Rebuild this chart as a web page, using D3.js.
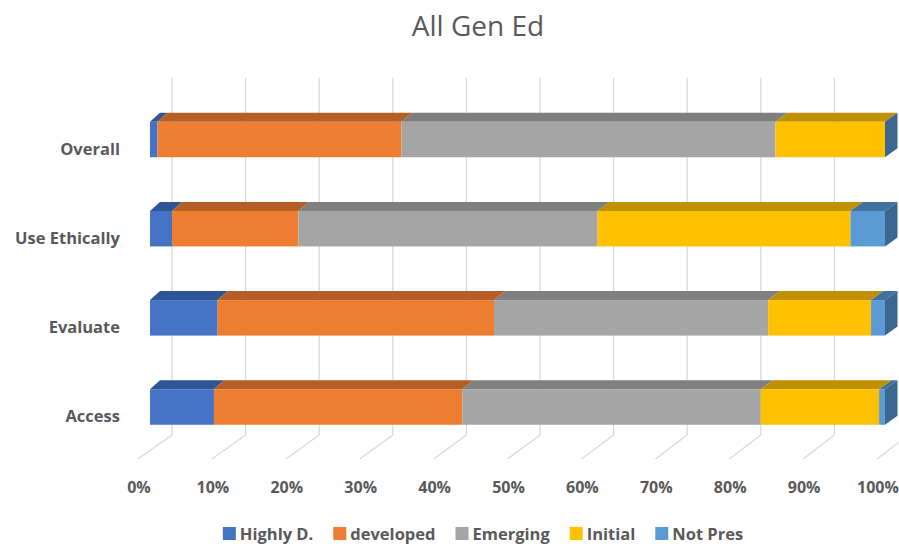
<!DOCTYPE html>
<html>
<head>
<meta charset="utf-8">
<script src="https://cdn.jsdelivr.net/npm/d3@7"></script>
<style>
  body { margin: 0; background: #fff; }
  text { font-family: "Open Sans", sans-serif; fill: #595959; }
</style>
</head>
<body>
<div class="chart-container"></div>
<script>
const categories = ["Overall", "Use Ethically", "Evaluate", "Access"];
const seriesNames = ["Highly D.", "developed", "Emerging", "Initial", "Not Pres"];
const highlyD   = [1.0, 3.0, 9.2, 8.7];
const developed = [33.2, 17.2, 37.6, 33.8];
const emerging  = [50.9, 40.7, 37.3, 40.6];
const initial   = [14.9, 34.4, 14.0, 16.1];
const notPres   = [0, 4.7, 1.9, 0.8];
const tickValues = [0, 10, 20, 30, 40, 50, 60, 70, 80, 90, 100];

const frontColors = ["#4472C4", "#ED7D31", "#A5A5A5", "#FFC000", "#5B9BD5"];
const topColors   = ["#2F5597", "#B55F26", "#7F7F7F", "#BF9000", "#41719C"];
const sideColor = "#3A6690";

const width = 899, height = 544;

const svg = d3.select('.chart-container')
    .append('svg')
    .attr('width', width)
    .attr('height', height);

// table for the stack
const table = categories.map((c, i) => ({
    cat: c,
    "Highly D.": highlyD[i],
    "developed": developed[i],
    "Emerging": emerging[i],
    "Initial": initial[i],
    "Not Pres": notPres[i]
}));
const stacked = d3.stack().keys(seriesNames)(table);

// Scales: front face of bars, back wall, front of floor
const xFront = d3.scaleLinear().domain([0, 100]).range([150, 885]);
const xWall  = d3.scaleLinear().domain([0, 100]).range([172, 908]);
const xFloor = d3.scaleLinear().domain([0, 100]).range([138, 877]);
const yScale = d3.scalePoint().domain(categories).range([139.5, 407]);
const barH = 35.5;
const depthY = -9;
const depthX = x => 10 + 2.5 * (x - 150) / 735;

const wallTop = 78, wallBottom = 435, floorFront = 459;

// wall gridlines
svg.append('g')
    .selectAll('line')
    .data(tickValues)
    .enter()
    .append('line')
    .attr('x1', d => xWall(d))
    .attr('x2', d => xWall(d))
    .attr('y1', wallTop)
    .attr('y2', wallBottom)
    .attr('stroke', '#d9d9d9')
    .attr('stroke-width', 1.3);

// floor gridlines
svg.append('g')
    .selectAll('line')
    .data(tickValues)
    .enter()
    .append('line')
    .attr('x1', d => xWall(d))
    .attr('x2', d => xFloor(d))
    .attr('y1', wallBottom)
    .attr('y2', floorFront)
    .attr('stroke', '#d9d9d9')
    .attr('stroke-width', 1.3);

// tick labels
svg.append('g')
    .selectAll('text')
    .data(tickValues)
    .enter()
    .append('text')
    .attr('x', d => xFloor(d) + 1)
    .attr('y', 493)
    .attr('text-anchor', 'middle')
    .style('font-size', '16px')
    .style('font-weight', 'bold')
    .text(d => d + '%');

// Bars
const bars = svg.append('g');
categories.forEach((cat, ci) => {
    const yTop = yScale(cat) - barH / 2;
    const yBot = yScale(cat) + barH / 2;
    const g = bars.append('g');
    stacked.forEach((s, si) => {
        const x0 = xFront(s[ci][0]), x1 = xFront(s[ci][1]);
        if (x1 - x0 <= 0) return;
        // top face
        g.append('path')
            .attr('d', `M${x0},${yTop} L${x1},${yTop} L${x1 + depthX(x1)},${yTop + depthY} L${x0 + depthX(x0)},${yTop + depthY} Z`)
            .attr('fill', topColors[si]);
        // front face
        g.append('rect')
            .attr('x', x0)
            .attr('y', yTop)
            .attr('width', x1 - x0)
            .attr('height', barH)
            .attr('fill', frontColors[si]);
    });
    // right side face of the bar end
    const xe = xFront(100), de = depthX(xe);
    g.append('path')
        .attr('d', `M${xe},${yTop} L${xe + de},${yTop + depthY} L${xe + de},${yBot + depthY} L${xe},${yBot} Z`)
        .attr('fill', sideColor);
});

// category labels
svg.append('g')
    .selectAll('text')
    .data(categories)
    .enter()
    .append('text')
    .attr('x', 120)
    .attr('y', d => yScale(d) + 15)
    .attr('text-anchor', 'end')
    .style('font-size', '16.5px')
    .style('font-weight', 'bold')
    .text(d => d);

// Title
svg.append('text')
    .attr('x', 478)
    .attr('y', 36)
    .attr('text-anchor', 'middle')
    .style('font-size', '28px')
    .text('All Gen Ed');

// Legend
const legend = svg.append('g');
let lx = 0;
seriesNames.forEach((name, i) => {
    const item = legend.append('g');
    item.append('rect')
        .attr('x', 0).attr('y', 527)
        .attr('width', 13).attr('height', 13)
        .attr('fill', frontColors[i]);
    const t = item.append('text')
        .attr('x', 17).attr('y', 540)
        .style('font-size', '16.5px')
        .style('font-weight', 'bold')
        .text(name);
    const w = 17 + t.node().getComputedTextLength();
    item.attr('transform', `translate(${lx},0)`);
    lx += w + 20;
});
const legendW = lx - 20;
legend.attr('transform', `translate(${483 - legendW / 2},0)`);
</script>
</body>
</html>
